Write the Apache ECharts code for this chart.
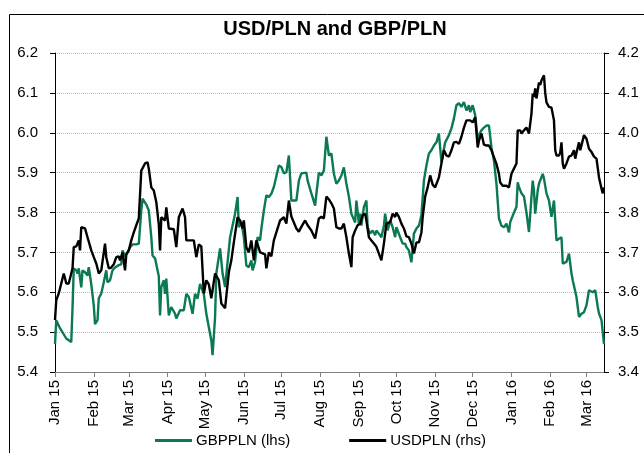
<!DOCTYPE html>
<html>
<head>
<meta charset="utf-8">
<script src="https://cdn.jsdelivr.net/npm/echarts@6/dist/echarts.min.js"></script>
<style>
html,body{margin:0;padding:0;background:#fff;}
#chart{width:644px;height:453px;}
</style>
</head>
<body>
<div id="chart"></div>
<script>
const titleText = 'USD/PLN and GBP/PLN';
const seriesNames = ['GBPPLN (lhs)', 'USDPLN (rhs)'];
const monthNames = ['Jan','Feb','Mar','Apr','May','Jun','Jul','Aug','Sep','Oct','Nov','Dec'];
const xRange = ['2015-01-01', '2016-03-15'];
const leftTicks = [5.4, 6.2, 0.1];
const rightTicks = [3.4, 4.2, 0.1];

const gbpDates = ['2015-01-01','2015-01-02','2015-01-05','2015-01-10','2015-01-14','2015-01-15','2015-01-16','2015-01-18','2015-01-19','2015-01-20','2015-01-22','2015-01-23','2015-01-25','2015-01-27','2015-01-28','2015-01-30',
'2015-02-01','2015-02-02','2015-02-04','2015-02-05','2015-02-07','2015-02-09','2015-02-11','2015-02-12','2015-02-14','2015-02-16','2015-02-18','2015-02-21','2015-02-23','2015-02-24','2015-02-26','2015-02-28',
'2015-03-02','2015-03-04','2015-03-07','2015-03-09','2015-03-11','2015-03-12','2015-03-15','2015-03-17','2015-03-19','2015-03-20','2015-03-22','2015-03-23','2015-03-25','2015-03-26','2015-03-27','2015-03-29','2015-03-30','2015-03-31',
'2015-04-02','2015-04-04','2015-04-07','2015-04-08','2015-04-11','2015-04-14','2015-04-16','2015-04-18','2015-04-21','2015-04-23','2015-04-25','2015-04-27','2015-04-30',
'2015-05-02','2015-05-06','2015-05-07','2015-05-09','2015-05-10','2015-05-13','2015-05-15','2015-05-17','2015-05-21','2015-05-25','2015-05-27','2015-05-28','2015-05-30',
'2015-06-01','2015-06-03','2015-06-05','2015-06-07','2015-06-08','2015-06-10','2015-06-12','2015-06-14','2015-06-15','2015-06-17','2015-06-19','2015-06-21','2015-06-23','2015-06-25','2015-06-26','2015-06-29',
'2015-07-01','2015-07-03','2015-07-05','2015-07-07','2015-07-09','2015-07-13','2015-07-15','2015-07-17','2015-07-21','2015-07-22','2015-07-25','2015-07-28','2015-07-29','2015-07-31',
'2015-08-02','2015-08-04','2015-08-06','2015-08-08','2015-08-10','2015-08-12','2015-08-14','2015-08-16','2015-08-18','2015-08-20','2015-08-22','2015-08-24','2015-08-26','2015-08-27','2015-08-29','2015-08-30',
'2015-09-01','2015-09-02','2015-09-03','2015-09-05','2015-09-07','2015-09-08','2015-09-10','2015-09-12','2015-09-14','2015-09-15','2015-09-17','2015-09-19','2015-09-21','2015-09-22','2015-09-24','2015-09-26','2015-09-28','2015-09-30',
'2015-10-01','2015-10-04','2015-10-06','2015-10-08','2015-10-09','2015-10-11','2015-10-13','2015-10-15','2015-10-17','2015-10-19','2015-10-21','2015-10-23','2015-10-25','2015-10-27','2015-10-29','2015-10-31',
'2015-11-02','2015-11-04','2015-11-06','2015-11-09','2015-11-12','2015-11-14','2015-11-16','2015-11-18','2015-11-20','2015-11-22','2015-11-24','2015-11-26','2015-11-28','2015-11-29',
'2015-12-01','2015-12-03','2015-12-04','2015-12-05','2015-12-06','2015-12-08','2015-12-10','2015-12-12','2015-12-14','2015-12-16','2015-12-18','2015-12-20','2015-12-22','2015-12-24','2015-12-26','2015-12-28','2015-12-30','2015-12-31',
'2016-01-03','2016-01-05','2016-01-06','2016-01-07','2016-01-09','2016-01-11','2016-01-13','2016-01-15','2016-01-17','2016-01-18','2016-01-19','2016-01-20','2016-01-22','2016-01-23','2016-01-26','2016-01-27','2016-01-29','2016-01-31',
'2016-02-02','2016-02-04','2016-02-06','2016-02-08','2016-02-10','2016-02-11','2016-02-14','2016-02-16','2016-02-18','2016-02-19','2016-02-22','2016-02-24','2016-02-26','2016-02-28',
'2016-03-01','2016-03-03','2016-03-06','2016-03-08','2016-03-10','2016-03-11','2016-03-13','2016-03-15'];
const gbpValues = [5.47,5.53,5.51,5.484,5.475,5.56,5.66,5.655,5.647,5.66,5.612,5.655,5.65,5.642,5.663,5.62,
5.567,5.52,5.53,5.585,5.597,5.625,5.655,5.625,5.63,5.655,5.662,5.668,5.67,5.705,5.69,5.70,
5.713,5.72,5.72,5.722,5.805,5.835,5.82,5.805,5.738,5.692,5.685,5.68,5.64,5.542,5.613,5.63,5.596,5.634,
5.542,5.563,5.546,5.534,5.555,5.555,5.596,5.588,5.546,5.596,5.584,5.621,5.596,
5.546,5.479,5.442,5.538,5.647,5.71,5.647,5.613,5.738,5.797,5.839,5.763,5.776,
5.738,5.667,5.663,5.68,5.655,5.676,5.738,5.73,5.759,5.805,5.843,5.839,5.847,5.864,5.864,5.918,
5.914,5.898,5.901,5.943,5.83,5.83,5.88,5.898,5.9,5.88,5.848,5.817,5.847,5.9,
5.893,5.905,5.99,5.943,5.948,5.897,5.872,5.88,5.893,5.913,5.872,5.84,5.797,5.8,5.775,5.83,
5.772,5.797,5.767,5.814,5.83,5.763,5.747,5.755,5.743,5.755,5.747,5.738,5.767,5.797,5.755,5.78,5.763,5.738,
5.763,5.738,5.722,5.722,5.713,5.705,5.675,5.747,5.76,5.767,5.793,5.88,5.918,5.948,5.956,5.968,
5.976,5.998,5.926,5.976,5.994,6.011,6.036,6.069,6.074,6.065,6.077,6.056,6.069,6.052,
6.069,6.044,6.014,5.981,5.994,6.006,6.013,6.018,6.018,5.963,5.93,5.872,5.785,5.767,5.763,5.772,5.75,5.776,
5.80,5.814,5.876,5.864,5.848,5.84,5.80,5.751,5.839,5.88,5.855,5.797,5.855,5.872,5.897,5.885,5.848,5.83,
5.789,5.83,5.73,5.734,5.738,5.672,5.676,5.697,5.647,5.63,5.588,5.538,5.546,5.55,
5.567,5.605,5.6,5.605,5.563,5.547,5.53,5.47];

const usdDates = ['2015-01-01','2015-01-02','2015-01-04','2015-01-06','2015-01-08','2015-01-09','2015-01-10','2015-01-12','2015-01-15','2015-01-16','2015-01-18','2015-01-20','2015-01-21','2015-01-22','2015-01-25','2015-01-27','2015-01-28','2015-01-30',
'2015-02-01','2015-02-03','2015-02-04','2015-02-05','2015-02-07','2015-02-08','2015-02-10','2015-02-11','2015-02-13','2015-02-15','2015-02-17','2015-02-19','2015-02-21','2015-02-22','2015-02-24','2015-02-26','2015-02-27',
'2015-03-01','2015-03-03','2015-03-05','2015-03-07','2015-03-09','2015-03-11','2015-03-12','2015-03-14','2015-03-16','2015-03-17','2015-03-19','2015-03-21','2015-03-23','2015-03-25','2015-03-26','2015-03-27','2015-03-30','2015-03-31',
'2015-04-02','2015-04-06','2015-04-08','2015-04-10','2015-04-13','2015-04-15','2015-04-16','2015-04-19','2015-04-22','2015-04-24','2015-04-26','2015-04-28','2015-04-30',
'2015-05-02','2015-05-04','2015-05-06','2015-05-09','2015-05-12','2015-05-14','2015-05-17','2015-05-18','2015-05-20','2015-05-22','2015-05-24','2015-05-27','2015-05-29','2015-05-31',
'2015-06-01','2015-06-03','2015-06-05','2015-06-07','2015-06-09','2015-06-11','2015-06-14','2015-06-15','2015-06-18','2015-06-19','2015-06-21','2015-06-23','2015-06-25','2015-06-26','2015-06-28','2015-06-30',
'2015-07-01','2015-07-03','2015-07-05','2015-07-07','2015-07-09','2015-07-11','2015-07-13','2015-07-15','2015-07-17','2015-07-20','2015-07-22','2015-07-23','2015-07-25','2015-07-28','2015-07-31',
'2015-08-02','2015-08-04','2015-08-06','2015-08-08','2015-08-10','2015-08-12','2015-08-14','2015-08-16','2015-08-18','2015-08-20','2015-08-22','2015-08-24','2015-08-26','2015-08-27','2015-08-29','2015-08-31',
'2015-09-02','2015-09-04','2015-09-06','2015-09-07','2015-09-09','2015-09-11','2015-09-13','2015-09-15','2015-09-17','2015-09-19','2015-09-21','2015-09-23','2015-09-26','2015-09-28','2015-09-30',
'2015-10-01','2015-10-03','2015-10-05','2015-10-07','2015-10-09','2015-10-11','2015-10-13','2015-10-14','2015-10-15','2015-10-17','2015-10-19','2015-10-21','2015-10-22','2015-10-24','2015-10-26','2015-10-28','2015-10-30',
'2015-11-01','2015-11-02','2015-11-04','2015-11-06','2015-11-08','2015-11-10','2015-11-12','2015-11-14','2015-11-16','2015-11-18','2015-11-20','2015-11-22','2015-11-24','2015-11-26','2015-11-29',
'2015-12-01','2015-12-03','2015-12-05','2015-12-06','2015-12-08','2015-12-10','2015-12-12','2015-12-14','2015-12-16','2015-12-18','2015-12-20','2015-12-22','2015-12-23','2015-12-25','2015-12-28','2015-12-30',
'2016-01-01','2016-01-03','2016-01-05','2016-01-06','2016-01-08','2016-01-09','2016-01-11','2016-01-13','2016-01-15','2016-01-17','2016-01-18','2016-01-19','2016-01-20','2016-01-21','2016-01-23','2016-01-24','2016-01-25','2016-01-27','2016-01-28','2016-01-29','2016-01-31',
'2016-02-02','2016-02-04','2016-02-05','2016-02-06','2016-02-08','2016-02-09','2016-02-10','2016-02-11','2016-02-12','2016-02-14','2016-02-16','2016-02-18','2016-02-20','2016-02-21','2016-02-22','2016-02-24','2016-02-25','2016-02-26','2016-02-28',
'2016-03-01','2016-03-03','2016-03-05','2016-03-07','2016-03-09','2016-03-11','2016-03-13','2016-03-14','2016-03-15'];
const usdValues = [3.53,3.58,3.597,3.622,3.647,3.635,3.622,3.622,3.66,3.713,3.715,3.73,3.705,3.763,3.76,3.738,3.738,3.705,
3.688,3.672,3.66,3.647,3.655,3.652,3.722,3.688,3.66,3.662,3.67,3.688,3.69,3.68,3.70,3.655,3.695,
3.705,3.73,3.75,3.768,3.785,3.905,3.91,3.923,3.926,3.91,3.863,3.855,3.826,3.77,3.705,3.788,3.78,3.813,
3.76,3.758,3.713,3.788,3.81,3.788,3.73,3.73,3.73,3.688,3.72,3.715,3.597,
3.63,3.62,3.585,3.647,3.63,3.572,3.56,3.565,3.65,3.68,3.725,3.788,3.78,3.76,
3.78,3.713,3.70,3.73,3.68,3.73,3.70,3.695,3.695,3.66,3.70,3.69,3.73,3.734,3.76,3.78,
3.775,3.788,3.772,3.83,3.79,3.775,3.76,3.752,3.764,3.78,3.768,3.764,3.755,3.735,3.785,
3.789,3.785,3.84,3.833,3.823,3.81,3.763,3.76,3.76,3.772,3.738,3.697,3.663,3.738,3.755,3.768,
3.772,3.793,3.797,3.78,3.738,3.73,3.722,3.714,3.697,3.68,3.722,3.772,3.776,3.797,3.789,
3.8,3.789,3.772,3.76,3.74,3.738,3.722,3.722,3.697,3.725,3.725,3.75,3.788,3.84,3.863,3.893,3.87,
3.863,3.86,3.888,3.923,3.956,3.943,3.94,3.956,3.976,3.977,3.972,3.99,4.013,4.031,4.031,
4.026,4.039,3.963,3.98,3.998,3.97,3.968,3.968,3.956,3.939,3.922,3.897,3.875,3.867,3.867,3.863,
3.897,3.91,3.923,4.006,4.006,3.998,4.006,4.013,3.998,4.048,4.098,4.09,4.111,4.086,4.126,4.12,4.131,4.144,4.10,4.076,4.065,
4.063,4.031,3.956,3.943,3.943,3.95,3.976,3.923,3.91,3.923,3.94,3.943,3.956,3.935,3.95,3.976,3.956,3.968,3.994,
3.985,3.96,3.952,3.94,3.935,3.888,3.86,3.848,3.863];

const FONT = "'Liberation Sans', Arial, sans-serif";
const DAY = 86400000;
function toUTC(s) { const p = s.split('-').map(Number); return Date.UTC(p[0], p[1] - 1, p[2]); }
function pairs(dates, vals) { return dates.map((d, i) => [toUTC(d), vals[i]]); }

const chart = echarts.init(document.getElementById('chart'), null, {renderer: 'canvas'});
chart.setOption({
  useUTC: true,
  animation: false,
  backgroundColor: '#fff',
  textStyle: {fontFamily: FONT},
  graphic: [{
    type: 'rect', left: 7, top: 12, silent: true,
    shape: {x: 0.5, y: 0.5, width: 700, height: 500},
    style: {fill: 'none', stroke: '#000', lineWidth: 1}
  }],
  title: {
    text: titleText, left: 330, top: 14, textAlign: 'center',
    textStyle: {fontFamily: FONT, fontSize: 20, fontWeight: 'bold', color: '#000'}
  },
  legend: {
    left: 150, top: 428, itemGap: 59, itemWidth: 37, itemHeight: 3, icon: 'rect',
    textStyle: {fontFamily: FONT, fontSize: 15, color: '#000', padding: [0, 0, 0, -1]},
    data: seriesNames
  },
  grid: {left: 55, right: 40, top: 53, bottom: 81, containLabel: false},
  xAxis: {
    type: 'time',
    min: toUTC(xRange[0]), max: toUTC(xRange[1]),
    minInterval: 28 * DAY, maxInterval: 31 * DAY,
    splitLine: {show: false},
    axisLine: {lineStyle: {color: '#808080', width: 1}},
    axisTick: {show: true, length: 5, lineStyle: {color: '#808080'}},
    axisLabel: {
      rotate: 90, fontSize: 15, color: '#000', fontFamily: FONT, margin: 8,
      hideOverlap: false, showMinLabel: true, showMaxLabel: false,
      formatter: function (v) {
        const d = new Date(v);
        if (d.getUTCDate() !== 1) return '';
        return monthNames[d.getUTCMonth()] + ' ' + String(d.getUTCFullYear()).slice(2);
      }
    }
  },
  yAxis: [{
    type: 'value', position: 'left',
    min: leftTicks[0], max: leftTicks[1], interval: leftTicks[2],
    axisLine: {show: true, lineStyle: {color: '#000', width: 1}},
    axisTick: {show: true, length: 5, lineStyle: {color: '#000'}},
    axisLabel: {fontSize: 15, color: '#000', fontFamily: FONT, margin: 17, formatter: v => v.toFixed(1)},
    splitLine: {show: true, lineStyle: {color: '#b8b8b8', type: [1, 1], width: 1}}
  }, {
    type: 'value', position: 'right',
    min: rightTicks[0], max: rightTicks[1], interval: rightTicks[2],
    axisLine: {show: true, lineStyle: {color: '#000', width: 1}},
    axisTick: {show: true, length: 5, lineStyle: {color: '#000'}},
    axisLabel: {fontSize: 15, color: '#000', fontFamily: FONT, margin: 14, formatter: v => v.toFixed(1)},
    splitLine: {show: false}
  }],
  series: [{
    name: seriesNames[0], type: 'line', yAxisIndex: 0,
    data: pairs(gbpDates, gbpValues),
    showSymbol: false, symbol: 'none',
    lineStyle: {color: '#0b7a50', width: 2.4},
    itemStyle: {color: '#0b7a50'}
  }, {
    name: seriesNames[1], type: 'line', yAxisIndex: 1,
    data: pairs(usdDates, usdValues),
    showSymbol: false, symbol: 'none',
    lineStyle: {color: '#000', width: 2.4},
    itemStyle: {color: '#000'}
  }]
});
</script>
</body>
</html>
